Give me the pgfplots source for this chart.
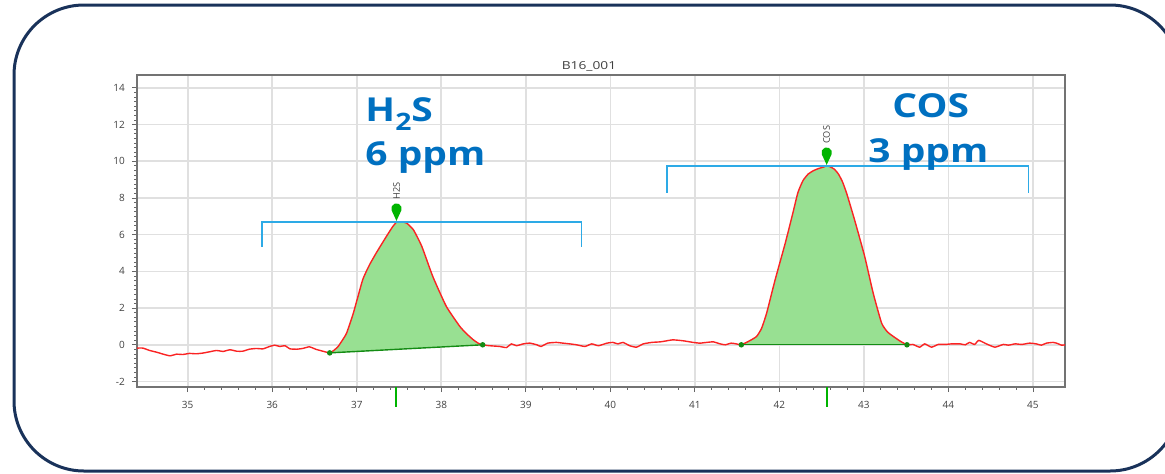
\documentclass[border=0pt]{standalone}
\usepackage{fontspec}
\setmainfont{Open Sans}
\usepackage{pgfplots}
\pgfplotsset{compat=1.18}
\definecolor{frame}{RGB}{25,50,90}
\definecolor{sig}{RGB}{250,35,35}
\definecolor{pkfill}{RGB}{152,224,146}
\definecolor{basegreen}{RGB}{20,140,20}
\definecolor{pingreen}{RGB}{0,180,0}
\definecolor{brk}{RGB}{45,170,230}
\definecolor{lblue}{RGB}{0,112,192}
\pgfdeclareplotmark{pin}{%
  \pgfpathmoveto{\pgfpoint{0pt}{0pt}}%
  \pgfpathlineto{\pgfpoint{-2.44pt}{5.31pt}}%
  \pgfpatharc{200}{-20}{2.6pt}%
  \pgfpathclose
  \pgfusepathqfill
}
\begin{document}
\begin{tikzpicture}
\useasboundingbox (0,0) rectangle (582.5pt,236.5pt);
\begin{scope}
\clip (0,0) rectangle (582.5pt,236.5pt);
\draw[frame, line width=1.5pt, rounded corners=35pt] (7pt,1pt) rectangle (590pt,234pt);
\end{scope}
\node[anchor=base, font=\fontsize{5.5}{6}\selectfont, text=black!75, xscale=1.25] at (294.5pt,202pt) {B16\_001};
\begin{axis}[
  at={(68.5pt,43pt)}, anchor=south west,
  scale only axis, width=464pt, height=156pt,
  xmin=34.40, xmax=45.38, ymin=-2.3, ymax=14.7,
  xtick={35,36,...,45}, ytick={-2,0,...,14},
  minor x tick num=4, minor y tick num=7,
  tick align=outside, xtick pos=bottom, ytick pos=left,
  major tick length=2.6pt, minor tick length=1.4pt,
  every tick/.style={black!60, line width=0.4pt},
  grid=major, major grid style={black!12, line width=0.8pt},
  axis line style={black!55, line width=0.6pt},
  /pgf/number format/assume math mode=true,
  ticklabel style={font=\fontsize{5}{6}\selectfont, text=black!75},
  xticklabel style={yshift=-1pt},
  clip=false,
]
% filled peak areas
\addplot[draw=none, fill=pkfill, smooth, tension=0.3] coordinates {
(36.68,-0.44)(36.73,-0.30)(36.78,-0.09)(36.83,0.25)(36.88,0.64)(36.96,1.73)(37.07,3.54)(37.15,4.35)(37.23,5.0)(37.35,5.9)(37.42,6.4)(37.47,6.68)(37.53,6.70)(37.59,6.63)(37.67,6.27)(37.77,5.36)(37.90,3.72)(38.06,2.09)(38.22,1.0)(38.30,0.6)(38.38,0.27)(38.44,0.08)(38.49,0.0)
} -- cycle;
\addplot[draw=none, fill=pkfill, smooth, tension=0.3] coordinates {
(41.55,0.0)(41.64,0.2)(41.73,0.45)(41.79,0.9)(41.85,1.73)(41.95,3.54)(42.07,5.54)(42.16,7.18)(42.22,8.3)(42.28,8.95)(42.34,9.3)(42.40,9.48)(42.46,9.6)(42.52,9.68)(42.56,9.75)(42.60,9.70)(42.65,9.57)(42.70,9.3)(42.75,8.85)(42.80,8.2)(42.89,6.81)(43.01,4.81)(43.11,2.82)(43.21,1.18)(43.28,0.7)(43.35,0.45)(43.43,0.2)(43.51,0.0)
} -- cycle;
% signal
\addplot[sig, line width=0.7pt, smooth, tension=0.3] coordinates {
(34.40,-0.18)(34.47,-0.18)(34.55,-0.31)(34.63,-0.40)(34.71,-0.51)(34.79,-0.60)(34.87,-0.51)(34.94,-0.53)(35.02,-0.47)(35.10,-0.49)(35.18,-0.45)(35.26,-0.38)(35.34,-0.31)(35.42,-0.36)(35.50,-0.27)(35.58,-0.35)(35.65,-0.35)(35.73,-0.24)(35.81,-0.20)(35.89,-0.22)(35.97,-0.09)(36.03,-0.02)(36.09,-0.09)(36.15,-0.05)(36.21,-0.22)(36.29,-0.24)(36.36,-0.20)(36.44,-0.11)(36.52,-0.25)(36.60,-0.35)(36.68,-0.44)
(36.73,-0.30)(36.78,-0.09)(36.83,0.25)(36.88,0.64)(36.96,1.73)(37.07,3.54)(37.15,4.35)(37.23,5.0)(37.35,5.9)(37.42,6.4)(37.47,6.68)(37.53,6.70)(37.59,6.63)(37.67,6.27)(37.77,5.36)(37.90,3.72)(38.06,2.09)(38.22,1.0)(38.30,0.6)(38.38,0.27)(38.44,0.08)(38.49,0.0)
(38.57,-0.05)(38.69,-0.09)(38.77,-0.15)(38.83,0.05)(38.89,-0.05)(38.97,0.05)(39.05,0.09)(39.13,0)(39.18,-0.09)(39.26,0.09)(39.36,0.13)(39.44,0.09)(39.52,0.05)(39.60,0)(39.70,-0.09)(39.78,0.05)(39.86,-0.05)(39.96,0.09)(40.03,0.13)(40.09,0.05)(40.15,0.13)(40.23,-0.05)(40.31,-0.13)(40.39,0.05)(40.49,0.13)(40.59,0.16)(40.67,0.22)(40.74,0.27)(40.86,0.22)(40.98,0.13)(41.06,0.09)(41.14,0.13)(41.22,0.16)(41.30,0.05)(41.36,0)(41.43,0.09)(41.49,0.05)(41.55,0.0)
(41.64,0.2)(41.73,0.45)(41.79,0.9)(41.85,1.73)(41.95,3.54)(42.07,5.54)(42.16,7.18)(42.22,8.3)(42.28,8.95)(42.34,9.3)(42.40,9.48)(42.46,9.6)(42.52,9.68)(42.56,9.75)(42.60,9.70)(42.65,9.57)(42.70,9.3)(42.75,8.85)(42.80,8.2)(42.89,6.81)(43.01,4.81)(43.11,2.82)(43.21,1.18)(43.28,0.7)(43.35,0.45)(43.43,0.2)(43.51,0.0)
(43.58,0.02)(43.66,-0.13)(43.72,0.05)(43.80,-0.13)(43.88,0.02)(43.96,0.02)(44.04,0.05)(44.14,0.05)(44.20,0)(44.25,0.13)(44.31,0.02)(44.36,0.24)(44.45,0.05)(44.55,-0.13)(44.65,0.02)(44.71,-0.02)(44.79,0.05)(44.87,0.02)(44.96,0.09)(45.04,0.05)(45.10,-0.02)(45.16,0.09)(45.24,0.13)(45.28,0.09)(45.34,-0.02)(45.38,0)
};
% integration baselines
\addplot[basegreen, line width=0.7pt, mark=*, mark size=1pt] coordinates {(36.68,-0.44)(38.49,0.0)};
\addplot[basegreen, line width=0.7pt, mark=*, mark size=1pt] coordinates {(41.55,0.0)(43.51,0.0)};
% brackets
\addplot[brk, line width=0.8pt] coordinates {(35.88,5.34)(35.88,6.70)(39.66,6.70)(39.66,5.34)};
\addplot[brk, line width=0.8pt] coordinates {(40.67,8.28)(40.67,9.75)(44.95,9.75)(44.95,8.28)};
% peak pins
\addplot[only marks, mark=pin, pingreen] coordinates {(37.47,6.75)(42.56,9.80)};
% retention markers below axis
\addplot[pingreen, line width=1pt] coordinates {(37.47,-2.3)(37.47,-3.39)};
\addplot[pingreen, line width=1pt] coordinates {(42.56,-2.3)(42.56,-3.39)};
% small peak names
\node[rotate=90, font=\fontsize{4.6}{5}\selectfont, text=black!75] at (axis cs:37.47,8.39) {H2S};
\node[rotate=90, font=\fontsize{4.6}{5}\selectfont, text=black!75] at (axis cs:42.56,11.44) {COS};
\end{axis}
% big labels
\node[anchor=base west, inner sep=0pt, text=lblue, font=\bfseries\fontsize{16.5}{18}\selectfont, xscale=1.18] at (182.5pt,176pt) {H\raisebox{-0.3em}{\fontsize{12}{12}\selectfont 2}S};
\node[anchor=base west, inner sep=0pt, text=lblue, font=\bfseries\fontsize{16.5}{18}\selectfont, xscale=1.18] at (182.5pt,154pt) {6 ppm};
\node[anchor=base west, inner sep=0pt, text=lblue, font=\bfseries\fontsize{16.5}{18}\selectfont, xscale=1.18] at (446pt,178pt) {COS};
\node[anchor=base west, inner sep=0pt, text=lblue, font=\bfseries\fontsize{16.5}{18}\selectfont, xscale=1.18] at (434pt,155.5pt) {3 ppm};
\end{tikzpicture}
\end{document}
